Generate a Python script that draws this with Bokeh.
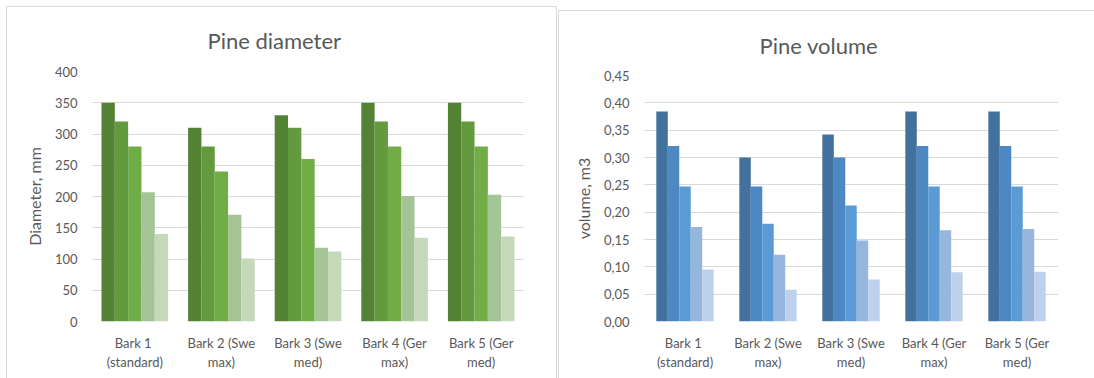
from bokeh.plotting import figure
from bokeh.layouts import row
from bokeh.models import ColumnDataSource, CustomJSTickFormatter, FixedTicker, Range1d
from bokeh.transform import dodge
from bokeh.embed import file_html
from bokeh.resources import INLINE

# Bark treatments on the category axis
categories = ["Bark  1\n(standard)", "Bark 2 (Swe\nmax)", "Bark 3 (Swe\nmed)",
              "Bark 4 (Ger\nmax)", "Bark 5 (Ger\nmed)"]

# Pine diameter, mm (five stem classes per treatment)
diameter_s1 = [350, 310, 330, 350, 350]
diameter_s2 = [320, 280, 310, 320, 320]
diameter_s3 = [280, 240, 260, 280, 280]
diameter_s4 = [207, 171, 118, 201, 203]
diameter_s5 = [140, 101, 112, 134, 136]

# Pine volume, m3
volume_s1 = [0.384, 0.300, 0.342, 0.384, 0.384]
volume_s2 = [0.321, 0.247, 0.300, 0.321, 0.321]
volume_s3 = [0.247, 0.179, 0.212, 0.247, 0.247]
volume_s4 = [0.173, 0.122, 0.148, 0.167, 0.169]
volume_s5 = [0.095, 0.058, 0.077, 0.090, 0.091]

diameter_ticks = [0, 50, 100, 150, 200, 250, 300, 350, 400]
volume_ticks = [0.0, 0.05, 0.10, 0.15, 0.20, 0.25, 0.30, 0.35, 0.40, 0.45]

green_shades = ["#548235", "#629a3d", "#70ad47", "#a5c496", "#c5d9ba"]
blue_shades = ["#41719c", "#4e88c3", "#5b9bd5", "#97b6de", "#bdd1ec"]

FONT = "Lato"
TEXT = "#595959"
EDGE = "1px solid #d9d9d9"


def bar_chart(title, ylabel, series, colors, ticks, fill, width, height,
              border_top, border_bottom, border_right, borders,
              title_standoff, tick_formatter=None):
    p = figure(x_range=categories, y_range=Range1d(ticks[0], ticks[-1]),
               width=width, height=height, output_backend="svg",
               toolbar_location=None, min_border_left=84,
               min_border_right=border_right,
               min_border_top=border_top, min_border_bottom=border_bottom,
               background_fill_color="white", border_fill_color="white")
    p.outline_line_color = None

    src = ColumnDataSource(dict(cat=categories,
                                **{f"s{i}": s for i, s in enumerate(series)}))
    n = len(series)
    w = fill / n
    for i, col in enumerate(colors):
        p.vbar(x=dodge("cat", (i - (n - 1) / 2) * w, range=p.x_range),
               top=f"s{i}", width=w, source=src, fill_color=col,
               line_color=None)

    p.title.text = title
    p.title.text_font = FONT
    p.title.text_font_size = "22px"
    p.title.text_font_style = "normal"
    p.title.text_color = TEXT
    p.title.align = "left"
    p.title.offset = 116
    p.title.standoff = title_standoff

    p.xgrid.grid_line_color = None
    p.ygrid.grid_line_color = "#d9d9d9"
    p.ygrid.grid_line_width = 1

    p.yaxis.ticker = FixedTicker(ticks=ticks)
    if tick_formatter is not None:
        p.yaxis.formatter = tick_formatter
    for ax in (p.xaxis[0], p.yaxis[0]):
        ax.axis_line_color = None
        ax.major_tick_line_color = None
        ax.minor_tick_line_color = None
        ax.major_tick_out = 0
        ax.major_tick_in = 0
        ax.major_label_text_font = FONT
        ax.major_label_text_font_size = "13px"
        ax.major_label_text_color = TEXT
    p.yaxis.major_label_standoff = 14
    p.xaxis.major_label_standoff = 13
    p.xaxis.major_label_text_line_height = 1.2
    p.yaxis.axis_label = ylabel
    p.yaxis.axis_label_text_font = FONT
    p.yaxis.axis_label_text_font_size = "16px"
    p.yaxis.axis_label_text_font_style = "normal"
    p.yaxis.axis_label_text_color = TEXT
    p.yaxis.axis_label_standoff = 8

    p.styles = {b: EDGE for b in borders}
    return p


p1 = bar_chart("Pine diameter", "Diameter, mm",
               [diameter_s1, diameter_s2, diameter_s3, diameter_s4, diameter_s5],
               green_shades, diameter_ticks, 0.769, 551, 372,
               64, 372 - 64 - 250, 34,
               ["border-top", "border-left", "border-right"], 35)
p1.margin = (6, 0, 0, 6)

comma_fmt = CustomJSTickFormatter(code="return tick.toFixed(2).replace('.', ',');")
p2 = bar_chart("Pine volume", "volume, m3",
               [volume_s1, volume_s2, volume_s3, volume_s4, volume_s5],
               blue_shades, volume_ticks, 0.691, 536, 368,
               63, 368 - 63 - 248, 37,
               ["border-top", "border-left"], 34, comma_fmt)
p2.margin = (10, 0, 0, 0)

layout = row(p1, p2, spacing=1)

with open("out.html", "w") as f:
    f.write(file_html(layout, INLINE, title="Pine diameter and volume"))
